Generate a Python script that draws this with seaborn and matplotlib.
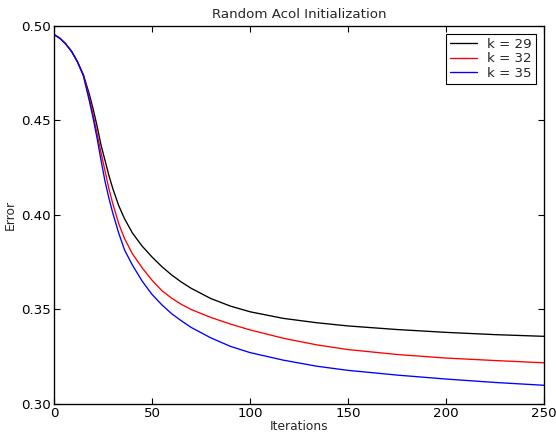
import numpy as np
import pandas as pd
import matplotlib
matplotlib.use('Agg')
import matplotlib.pyplot as plt
import seaborn as sns

sns.set_style('white')
plt.rcParams['font.family'] = ['DejaVu Sans']

# values
iters = [0, 3, 6, 9, 12, 15, 18, 20, 22, 24, 26, 28, 30, 33, 36, 40, 45, 50, 55,
         60, 65, 70, 80, 90, 100, 117, 134, 150, 175, 200, 225, 250]
err_k29 = [0.4955, 0.4935, 0.4905, 0.4865, 0.4810, 0.4742, 0.4640, 0.4560, 0.4470,
           0.4370, 0.4290, 0.4210, 0.4140, 0.4050, 0.3980, 0.3905, 0.3835, 0.3778,
           0.3727, 0.3683, 0.3645, 0.3612, 0.3558, 0.3518, 0.3488, 0.3453, 0.3430,
           0.3413, 0.3394, 0.3379, 0.3367, 0.3358]
err_k32 = [0.4955, 0.4935, 0.4905, 0.4865, 0.4810, 0.4740, 0.4620, 0.4530, 0.4430,
           0.4330, 0.4235, 0.4140, 0.4060, 0.3955, 0.3875, 0.3795, 0.3720, 0.3655,
           0.3600, 0.3560, 0.3527, 0.3500, 0.3458, 0.3423, 0.3392, 0.3348, 0.3313,
           0.3288, 0.3262, 0.3243, 0.3230, 0.3218]
err_k35 = [0.4955, 0.4935, 0.4905, 0.4865, 0.4810, 0.4736, 0.4605, 0.4510, 0.4405,
           0.4290, 0.4180, 0.4090, 0.4010, 0.3905, 0.3815, 0.3735, 0.3650, 0.3580,
           0.3525, 0.3478, 0.3440, 0.3405, 0.3350, 0.3305, 0.3272, 0.3232, 0.3200,
           0.3178, 0.3153, 0.3132, 0.3114, 0.3099]
labels = ['k = 29', 'k = 32', 'k = 35']
colors = ['black', 'red', 'blue']

df = pd.DataFrame({
    'Iterations': iters * 3,
    'Error': err_k29 + err_k32 + err_k35,
    'k': [labels[0]] * len(iters) + [labels[1]] * len(iters) + [labels[2]] * len(iters),
})

fig = plt.figure(figsize=(6.95, 5.45), dpi=80)
ax = fig.add_axes([0.0971, 0.0734, 0.8813, 0.867])
sns.lineplot(data=df, x='Iterations', y='Error', hue='k', palette=colors,
             linewidth=1.2, ax=ax)

ax.set_xlim(0, 250)
ax.set_ylim(0.30, 0.50)
ax.set_xticks([0, 50, 100, 150, 200, 250])
ax.set_yticks([0.30, 0.35, 0.40, 0.45, 0.50])
ax.set_yticklabels(['0.30', '0.35', '0.40', '0.45', '0.50'])
ax.tick_params(direction='in', length=5, width=1, labelsize=12, pad=3,
               top=True, right=True, bottom=True, left=True, colors='black')
for s in ax.spines.values():
    s.set_color('black')
    s.set_linewidth(1.2)

ax.set_title('Random Acol Initialization', fontsize=12, pad=7)
ax.set_xlabel('Iterations', fontsize=11, labelpad=0)
ax.set_ylabel('Error', fontsize=11, labelpad=4)

leg = ax.legend(loc='upper right', fontsize=12, handlelength=2.0,
                labelspacing=0.1, borderpad=0.3, handletextpad=0.8,
                fancybox=False, framealpha=1, borderaxespad=0.6)
leg.get_frame().set_edgecolor('black')
leg.get_frame().set_linewidth(1.0)

fig.savefig('out.png', dpi=80)
